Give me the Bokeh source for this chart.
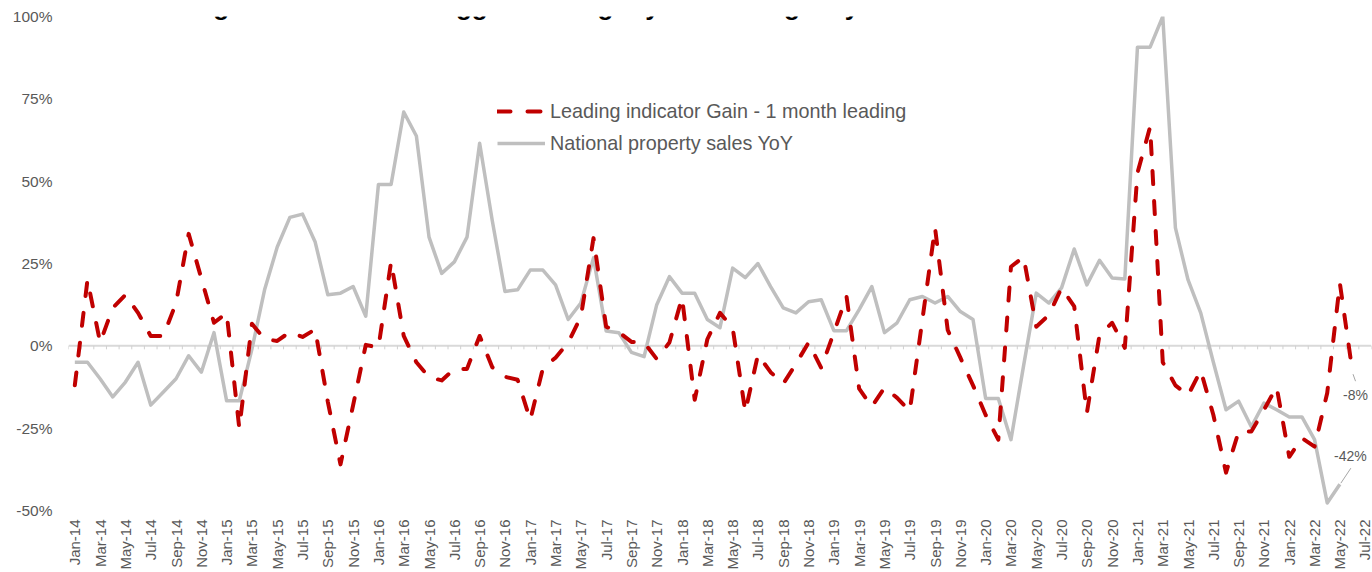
import numpy as np
import pandas as pd
from bokeh.plotting import figure
from bokeh.models import FixedTicker, Span, Legend, LegendItem, Label, Range1d
from bokeh.embed import file_html
from bokeh.resources import INLINE

# ---------------- data ----------------
months = pd.date_range("2014-01-01", periods=103, freq="MS").strftime("%b-%y").tolist()

gain_leading = [-12, 20, 1, 11.5, 15.5, 10, 3, 3, 13, 34,
                20.5, 7, 10, -25, 6.7, 2, 1.5, 4.2, 2.7, 5,
                -17, -36, -18, 0.3, -0.5, 25.5, 3, -5, -9.5, -10.5,
                -7, -7, 3, -6.5, -9.4, -10.3, -22.5, -6.8, -3.6, 1,
                8.8, 32.7, 5.8, 4.2, 1.2, 1, -4, 1, 14.6, -16.4,
                2, 10, 5.5, -20, -2.7, -8, -11.5, -5.5, 1, -6.7,
                4, 15, -13, -18.5, -12.7, -15.8, -19.8, 8, 35.8, 4.8,
                -3.6, -12, -21, -28.5, 24, 27, 5.8, 9.4, 17.6, 12,
                -20.4, 3.3, 7, -0.6, 52.5, 66.5, -5, -12, -15, -7.5,
                -21, -38.5, -26, -26, -19.4, -12.5, -33.7, -28, -30.6, -14.3,
                19, -8]

property_sales_yoy = [-5, -5, -10, -15.5, -11, -5, -18, -14, -10, -3,
                      -8, 4, -16.7, -16.7, -1, 17, 30, 39, 40, 31.5,
                      15.5, 16, 18, 9, 49, 49, 71, 63.7, 33, 22,
                      25.5, 33, 61.5, 38, 16.5, 17, 23, 23, 18.5, 8,
                      13, 26.7, 4.5, 4, -2, -3.3, 12.5, 21, 16, 16,
                      8, 5.5, 23.6, 20.7, 25, 18, 11.5, 10, 13.4, 14,
                      4.6, 4.6, 11, 18, 4, 7, 14, 15, 13, 15,
                      10.4, 8, -16, -16, -28.5, -6, 16, 13, 17.6, 29.4,
                      18.5, 26, 20.6, 20.3, 90.7, 90.7, 100, 35.8, 20, 10,
                      -5, -19.4, -16.8, -24.6, -17.4, -19.4, -21.6, -21.6, -28.5, -47.7,
                      -42]

y_ticks = [-50, -25, 0, 25, 50, 75, 100]
series_names = ["Leading indicator Gain - 1 month leading", "National property sales YoY"]
title_text = "Figure 2: Leading indicator GAIN suggests a slightly weakening July"

# ---------------- layout ----------------
FONT = "Liberation Sans"
GREY_TXT = "#595959"
W, H = 1372, 586
FL, FT, FR, FB = 68, 30, 1, 62
px_y = (H - FT - FB) / (y_ticks[-1] - y_ticks[0])
px_x = (W - FL - FR) / len(months)

p = figure(width=W, height=H,
           x_range=Range1d(-0.5, len(months) - 0.5),
           y_range=Range1d(y_ticks[0], y_ticks[-1]),
           output_backend="svg", toolbar_location=None, tools="",
           min_border_left=FL, min_border_right=FR,
           min_border_top=FT, min_border_bottom=FB,
           background_fill_color="white", border_fill_color="white")
p.styles = {"position": "absolute", "top": "-14px", "left": "0px"}
p.outline_line_color = None
p.grid.visible = False

# axes
p.xaxis.ticker = FixedTicker(ticks=list(range(0, len(months), 2)))
p.xaxis.major_label_overrides = {i: months[i] for i in range(0, len(months), 2)}
p.xaxis.major_label_orientation = np.pi / 2
p.xaxis.major_label_standoff = 9
p.xaxis.major_label_text_font_size = "15px"
p.yaxis.ticker = FixedTicker(ticks=y_ticks)
p.yaxis.major_label_overrides = {t: f"{t}%" for t in y_ticks}
p.yaxis.major_label_standoff = 16
p.yaxis.major_label_text_font_size = "15.5px"
for ax in (p.xaxis, p.yaxis):
    ax.axis_line_color = None
    ax.major_tick_line_color = None
    ax.minor_tick_line_color = None
    ax.major_tick_out = 0
    ax.major_tick_in = 0
    ax.minor_tick_out = 0
    ax.minor_tick_in = 0
    ax.major_label_text_font = FONT
    ax.major_label_text_color = GREY_TXT

# zero line with category tick marks
p.add_layout(Span(location=0, dimension="width", line_color="#D9D9D9",
                  line_width=2, level="underlay"))
bx = np.arange(len(months) + 1) - 0.5
p.segment(x0=bx, y0=np.zeros_like(bx), x1=bx, y1=np.full_like(bx, -3.5 / px_y),
          line_color="#D0D0D0", line_width=1)

# series
xg = np.arange(len(property_sales_yoy))
xr = np.arange(len(gain_leading))
r_grey = p.line(xg, property_sales_yoy, line_color="#BFBFBF", line_width=3.5,
                line_join="round")
r_red = p.line(xr, gain_leading, line_color="#C00000", line_width=4,
               line_dash="13 17", line_cap="round", line_join="round")

legend = Legend(items=[LegendItem(label=series_names[0], renderers=[r_red]),
                       LegendItem(label=series_names[1], renderers=[r_grey])],
                location=(429, 351), orientation="vertical",
                border_line_color=None, background_fill_alpha=0,
                padding=0, margin=0, spacing=0,
                glyph_width=48, glyph_height=32, label_height=32, label_standoff=5,
                label_text_font=FONT, label_text_font_size="19.8px",
                label_text_color=GREY_TXT)
p.add_layout(legend)

# data labels with leader lines
lr_x, lr_y = xr[-1], gain_leading[-1]
lg_x, lg_y = xg[-1], property_sales_yoy[-1]
p.segment(x0=[lr_x + 0.5 / px_x, lg_x + 1 / px_x],
          y0=[lr_y - 2 / px_y, lg_y + 1 / px_y],
          x1=[lr_x + 3 / px_x, lg_x + 11 / px_x],
          y1=[lr_y - 9 / px_y, lg_y + 16 / px_y],
          line_color="#A6A6A6", line_width=1)
p.add_layout(Label(x=lr_x, y=lr_y, text=f"{round(lr_y)}%", x_offset=3, y_offset=-23,
                   text_align="center", text_baseline="middle",
                   text_font=FONT, text_font_size="14px", text_color=GREY_TXT))
p.add_layout(Label(x=lg_x, y=lg_y, text=f"{round(lg_y)}%", x_offset=10.5, y_offset=28,
                   text_align="center", text_baseline="middle",
                   text_font=FONT, text_font_size="14px", text_color=GREY_TXT))

# (cropped) title
p.add_layout(Label(x=-0.5 + (12 - FL) / px_x, y=y_ticks[-1] + (FT - 19) / px_y,
                   text=title_text, text_align="left", text_baseline="alphabetic",
                   text_font=FONT, text_font_size="26px", text_font_style="bold",
                   text_color="#000000"))

open("out.html", "w").write(file_html(p, INLINE))
